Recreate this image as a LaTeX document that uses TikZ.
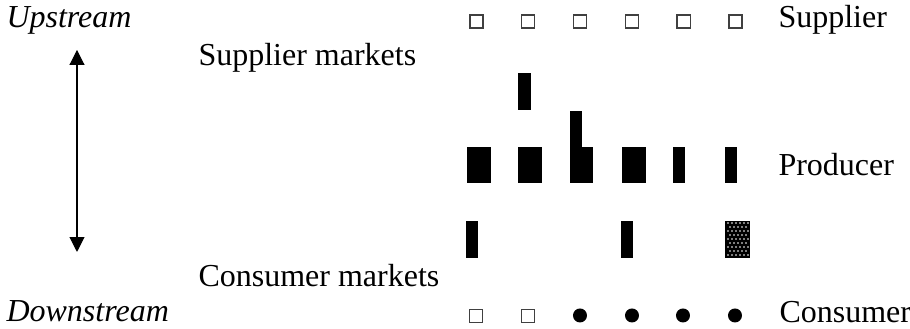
\documentclass[tikz,border=0pt]{standalone}
\usepackage{fontspec}
\setmainfont{Liberation Serif}
\usetikzlibrary{arrows.meta}

\begin{document}
\begin{tikzpicture}[x=0.375pt,y=-0.375pt,>={Triangle[length=5.6pt,width=5.6pt]},
    every node/.style={inner sep=0pt,font=\fontsize{12}{14}\selectfont},
    lbl/.style={anchor=base west},
    box/.style={draw=black!75,line width=0.5pt,minimum size=4.9pt},
    dot/.style={circle,fill=black,minimum size=5.25pt},
    bar/.style={fill=black,minimum width=9pt,minimum height=13.5pt},
    narrow/.style={bar,minimum width=4.5pt}]

    \useasboundingbox (0,0) rectangle (910,329);

    % left column
    \node[lbl] (up) at (6,28) {\itshape Upstream};
    \node[lbl] (down) at (6,322) {\itshape Downstream};
    \coordinate (arrowtop) at (77,50);
    \coordinate (arrowbot) at (77,252);
    \draw[<->] (arrowtop) -- (arrowbot);

    \node[lbl] (supmkt) at (198,66) {Supplier markets};
    \node[lbl] (conmkt) at (198,287) {Consumer markets};

    % right column
    \node[lbl] (supplier) at (778,28) {Supplier};
    \node[lbl] (producer) at (778,176) {Producer};
    \node[lbl] (consumer) at (779,323) {Consumer};

    % suppliers
    \foreach \i/\x in {1/476.5,2/528.3,3/580.1,4/631.9,5/683.7,6/735.5}
    {
        \node[box] (s\i) at (\x,21.5) {};
    }

    % producers
    \node[narrow,minimum width=4.9pt,minimum height=13.9pt] (q2) at (524.5,91.5) {};
    \node[narrow] (q3) at (576,129) {};
    \node[bar] (p1) at (479,165) {};
    \node[bar] (p2) at (530,165) {};
    \node[bar,minimum width=8.6pt] (p3) at (581.5,165) {};
    \node[bar] (p4) at (634,165) {};
    \node[narrow] (p5) at (679,165) {};
    \node[narrow] (p6) at (731,165) {};

    \node[narrow,minimum height=13.9pt] (r1) at (472.5,239.5) {};
    \node[narrow,minimum height=13.9pt] (r4) at (627.5,239.5) {};
    \node[bar,minimum width=9.4pt,minimum height=13.9pt] (r6) at (737.5,239.5) {};
    \foreach \j in {0,2,4,6,8}
        \foreach \i in {0,...,5}
            \fill[white] ({728+4*\i},{223+4*\j}) circle[radius=0.85];
    \foreach \j in {1,3,5,7}
        \foreach \i in {0,...,4}
            \fill[white] ({730+4*\i},{223+4*\j}) circle[radius=0.85];

    % consumers
    \node[box] (c1) at (476,316) {};
    \node[box] (c2) at (528,316) {};
    \foreach \i/\x in {3/580,4/632,5/683,6/735}
    {
        \node[dot] (c\i) at (\x,315.5) {};
    }

\end{tikzpicture}
\end{document}
